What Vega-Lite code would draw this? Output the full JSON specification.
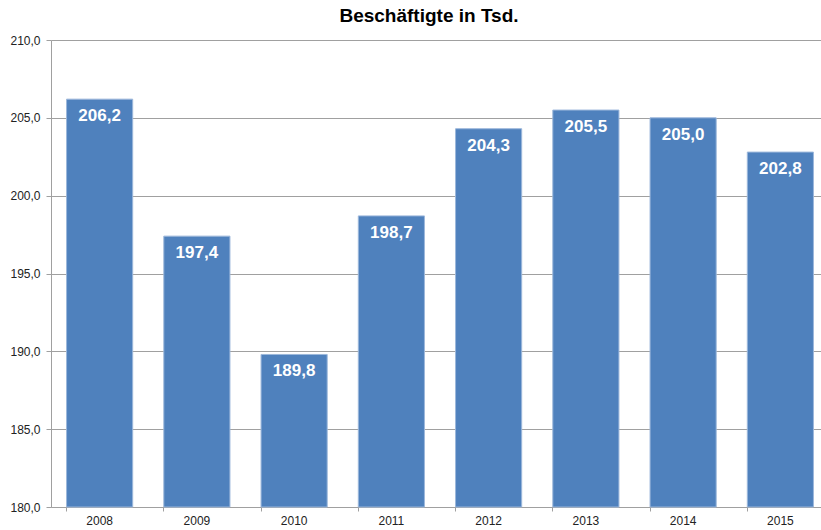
{
  "$schema": "https://vega.github.io/schema/vega-lite/v6.json",
  "autosize": "none",
  "width": 770,
  "height": 467,
  "padding": {"left": 51, "top": 40, "right": 0, "bottom": 23},
  "background": "white",
  "title": {
    "text": "Beschäftigte in Tsd.",
    "font": "Liberation Sans",
    "fontSize": 19,
    "fontWeight": "bold",
    "color": "#000000",
    "anchor": "middle",
    "frame": "group",
    "offset": 8,
    "dx": -7
  },
  "config": {
    "view": {"stroke": null},
    "locale": {
      "number": {"decimal": ",", "thousands": ".", "grouping": [3], "currency": ["", " €"]}
    },
    "axis": {
      "labelFont": "Liberation Sans",
      "labelFontSize": 12,
      "labelColor": "#222222",
      "domainColor": "#a0a0a0",
      "tickColor": "#a0a0a0",
      "gridColor": "#a0a0a0",
      "title": null
    }
  },
  "data": {
    "values": [
      {"Jahr": "2008", "Wert": 206.2},
      {"Jahr": "2009", "Wert": 197.4},
      {"Jahr": "2010", "Wert": 189.8},
      {"Jahr": "2011", "Wert": 198.7},
      {"Jahr": "2012", "Wert": 204.3},
      {"Jahr": "2013", "Wert": 205.5},
      {"Jahr": "2014", "Wert": 205.0},
      {"Jahr": "2015", "Wert": 202.8}
    ]
  },
  "encoding": {
    "x": {
      "field": "Jahr",
      "type": "nominal",
      "sort": null,
      "scale": {"range": [0, 778], "paddingInner": 0.32, "paddingOuter": 0.16},
      "axis": {
        "labelAngle": 0,
        "bandPosition": 0,
        "tickSize": 4,
        "labelPadding": 4,
        "grid": false
      }
    },
    "y": {
      "field": "Wert",
      "type": "quantitative",
      "scale": {"domain": [180, 210], "zero": false, "nice": false},
      "axis": {
        "values": [180, 185, 190, 195, 200, 205, 210],
        "format": ".1f",
        "tickSize": 5,
        "labelPadding": 6,
        "grid": true
      }
    }
  },
  "layer": [
    {
      "mark": {"type": "bar", "color": "#4F81BD", "stroke": "#9CB7DB", "strokeWidth": 1},
      "encoding": {
        "y2": {"datum": 180}
      }
    },
    {
      "mark": {
        "type": "text",
        "color": "white",
        "font": "Liberation Sans",
        "fontSize": 17,
        "fontWeight": "bold",
        "baseline": "top",
        "dy": 9
      },
      "encoding": {
        "text": {"field": "Wert", "type": "quantitative", "format": ".1f"}
      }
    }
  ]
}
